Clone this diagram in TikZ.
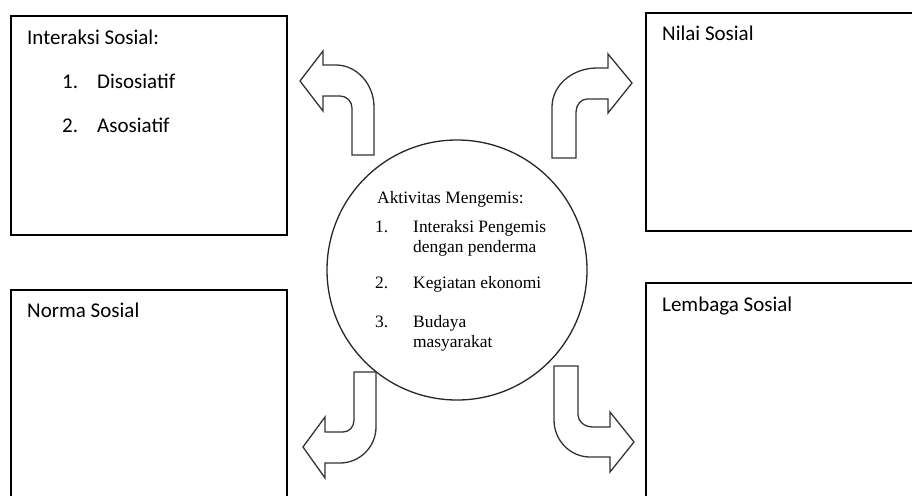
\documentclass[tikz,border=0pt]{standalone}
\usepackage{fontspec}
\setmainfont{Liberation Serif}
\newfontfamily\calib{Carlito}
\begin{document}
\begin{tikzpicture}[x=1pt,y=-1pt,
  box/.style={draw=black, line width=1.8pt, rectangle, anchor=north west, inner sep=0pt, outer sep=0pt},
  ring/.style={draw=black!85, line width=1.3pt, circle, inner sep=0pt},
  bentarrow/.style={draw=black!80, line width=1.3pt, fill=white, line join=miter},
  boxtxt/.style={anchor=base west, inner sep=0pt, font=\calib\fontsize{21}{25}\selectfont, text=black},
  ctxt/.style={anchor=base west, inner sep=0pt, font=\fontsize{17.4}{20}\selectfont, text=black}]
\useasboundingbox (0,0) rectangle (912,495);
\fill[white] (0,0) rectangle (912,495);

% boxes
\node (b1) [box, minimum width=276pt, minimum height=219pt] at (11,16) {};
\node (b2) [box, minimum width=274pt, minimum height=218pt] at (646,13) {};
\node (b3) [box, minimum width=276pt, minimum height=220pt] at (11,290) {};
\node (b4) [box, minimum width=274pt, minimum height=225pt] at (646,283) {};

% central circle
\node (c) [ring, minimum size=260pt] at (457,270) {};

% bent arrows
\draw[bentarrow] (352,155) -- (352,108) .. controls (352,101.4) and (346.6,96) .. (340,96)
  -- (323,96) -- (323,111) -- (300,81) -- (323,51) -- (323,65) -- (336,65)
  .. controls (356.6,65) and (374,84) .. (374,107) -- (374,155) -- cycle;
\draw[bentarrow] (552,158) -- (552,107) .. controls (552,85.5) and (572,68) .. (597,68)
  -- (608,68) -- (608,54) -- (632,83) -- (608,113) -- (608,99) -- (587,99)
  .. controls (581,99) and (576,105) .. (576,112) -- (576,158) -- cycle;
\draw[bentarrow] (354,372) -- (354,420) .. controls (354,426.6) and (349.6,432) .. (343,432)
  -- (325,432) -- (325,417) -- (303,447) -- (325,478) -- (325,463) -- (340,463)
  .. controls (359.8,463) and (376,446.8) .. (376,427) -- (376,372) -- cycle;
\draw[bentarrow] (554,366) -- (554,420) .. controls (554,440.4) and (570.2,457) .. (590,457)
  -- (610,457) -- (610,472) -- (634,442) -- (610,412) -- (610,427) -- (593,427)
  .. controls (584.7,427) and (578,421.6) .. (578,415) -- (578,366) -- cycle;

% box texts
\node (t1) [boxtxt] at (27,45) {Interaksi Sosial:};
\node (t1n1) [boxtxt] at (62,88) {1.};
\node (t1i1) [boxtxt] at (97,88) {Disosiatif};
\node (t1n2) [boxtxt] at (62,132) {2.};
\node (t1i2) [boxtxt] at (97,132) {Asosiatif};
\node (t2) [boxtxt] at (662,41) {Nilai Sosial};
\node (t3) [boxtxt] at (27,317) {Norma Sosial};
\node (t4) [boxtxt] at (662,311) {Lembaga Sosial};

% circle texts
\node (ct) [ctxt] at (377,203) {Aktivitas Mengemis:};
\node (cn1) [ctxt] at (375,232) {1.};
\node (ci1) [ctxt] at (413,232) {Interaksi Pengemis};
\node (ci1b) [ctxt] at (413,252) {dengan penderma};
\node (cn2) [ctxt] at (375,288) {2.};
\node (ci2) [ctxt] at (413,288) {Kegiatan ekonomi};
\node (cn3) [ctxt] at (375,327) {3.};
\node (ci3) [ctxt] at (413,327) {Budaya};
\node (ci3b) [ctxt] at (413,347) {masyarakat};
\end{tikzpicture}
\end{document}
